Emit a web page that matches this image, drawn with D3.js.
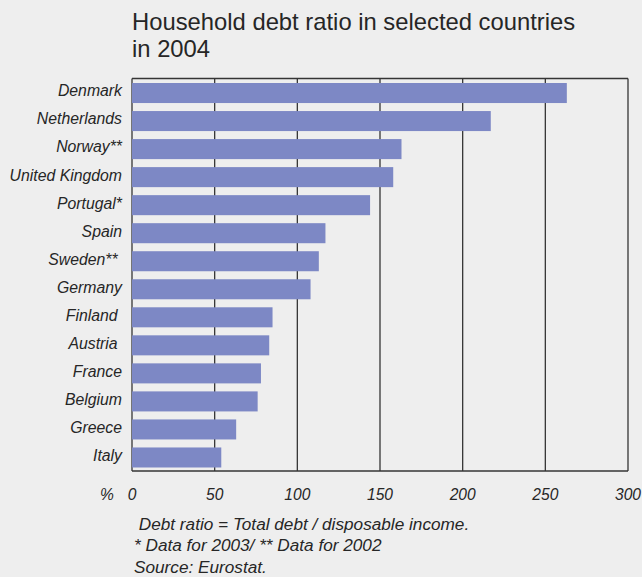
<!DOCTYPE html>
<html>
<head>
<meta charset="utf-8">
<script src="https://cdn.jsdelivr.net/npm/d3@7"></script>
<style>
  html, body { margin: 0; padding: 0; background: #eeeeee; }
  svg { display: block; }
  text { font-family: "Liberation Sans", Arial, Helvetica, sans-serif; fill: #262626; }
</style>
</head>
<body>
<svg id="chart" width="642" height="577"></svg>
<script>
// Household debt ratio (% of disposable income), 2004
const countries = ["Denmark", "Netherlands", "Norway**", "United Kingdom", "Portugal*",
                   "Spain", "Sweden** ", "Germany", "Finland ", "Austria ",
                   "France", "Belgium", "Greece", "Italy"];
const debtRatio = [263, 217, 163, 158, 144, 117, 113, 108, 85, 83, 78, 76, 63, 54];
const xTicks = [0, 50, 100, 150, 200, 250, 300];
const titleLines = ["Household debt ratio in selected countries", "in 2004"];
const notes = [" Debt ratio = Total debt / disposable income.",
               "* Data for 2003/ ** Data for 2002",
               "Source: Eurostat."];

const svg = d3.select("#chart");
const plot = { left: 132, right: 628, top: 78.5, bottom: 471 };

const x = d3.scaleLinear().domain([0, 300]).range([plot.left, plot.right]);
const y = d3.scaleBand().domain(countries).range([79, 471.5])
  .paddingInner(0.2857).paddingOuter(0.143);

// background
svg.append("rect").attr("width", 642).attr("height", 577).attr("fill", "#eeeeee");

// title
svg.append("g").selectAll("text").data(titleLines).join("text")
  .attr("x", plot.left)
  .attr("y", (d, i) => 30 + i * 27)
  .attr("font-size", 23.8)
  .text(d => d);

// vertical gridlines and frame
const lineColor = "#353535";
svg.append("g").selectAll("line").data(xTicks).join("line")
  .attr("x1", d => x(d)).attr("x2", d => x(d))
  .attr("y1", plot.top).attr("y2", plot.bottom)
  .attr("stroke", lineColor).attr("stroke-width", 1.3);
svg.append("line")
  .attr("x1", plot.left).attr("x2", plot.right)
  .attr("y1", plot.top).attr("y2", plot.top)
  .attr("stroke", lineColor).attr("stroke-width", 1.3);
svg.append("line")
  .attr("x1", plot.left).attr("x2", plot.right)
  .attr("y1", plot.bottom).attr("y2", plot.bottom)
  .attr("stroke", lineColor).attr("stroke-width", 1.3);

// bars
svg.append("g").selectAll("rect").data(countries).join("rect")
  .attr("x", x(0))
  .attr("y", d => y(d))
  .attr("width", (d, i) => x(debtRatio[i]) - x(0))
  .attr("height", y.bandwidth())
  .attr("fill", "#7d88c5");

// country labels
svg.append("g").selectAll("text").data(countries).join("text")
  .attr("x", 122)
  .attr("y", d => y(d) + y.bandwidth() / 2 + 3.4)
  .attr("text-anchor", "end")
  .attr("font-size", 15.8)
  .attr("font-style", "italic")
  .style("white-space", "pre")
  .text(d => d);

// x tick labels
svg.append("g").selectAll("text").data(xTicks).join("text")
  .attr("x", d => x(d))
  .attr("y", 499.5)
  .attr("text-anchor", "middle")
  .attr("font-size", 15.6)
  .attr("font-style", "italic")
  .text(d => d);
svg.append("text")
  .attr("x", 107).attr("y", 499.5)
  .attr("text-anchor", "middle")
  .attr("font-size", 15.6)
  .attr("font-style", "italic")
  .text("%");

// footnotes
svg.append("g").selectAll("text").data(notes).join("text")
  .attr("x", 134)
  .attr("y", (d, i) => 529.5 + i * 21.8)
  .attr("font-size", 17.2)
  .attr("font-style", "italic")
  .style("white-space", "pre")
  .text(d => d);
</script>
</body>
</html>
